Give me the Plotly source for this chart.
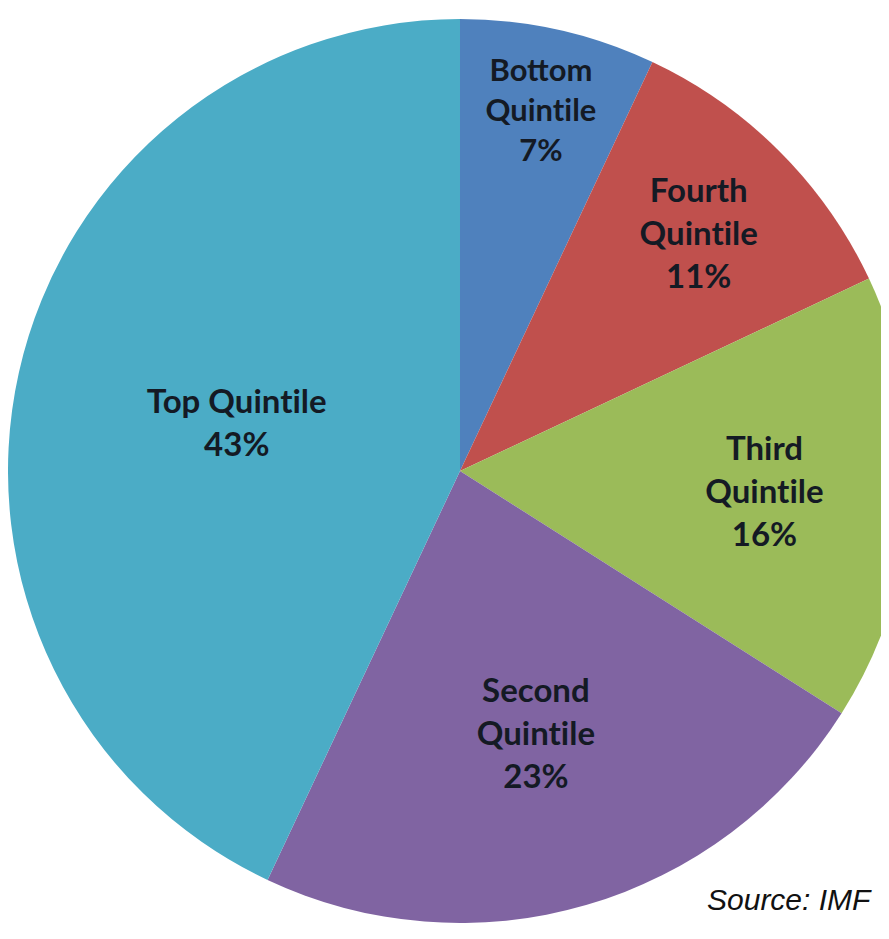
import plotly.graph_objects as go

ZWNJ = "\u200c"  # keeps "t" and "i" as separate glyphs, as in the original
labels = ["Bottom<br>Quint" + ZWNJ + "ile", "Fourth<br>Quint" + ZWNJ + "ile",
          "Third<br>Quint" + ZWNJ + "ile", "Second<br>Quint" + ZWNJ + "ile",
          "Top Quint" + ZWNJ + "ile"]
values = [7, 11, 16, 23, 43]
colors = ["#4F81BD", "#C0504D", "#9BBB59", "#8064A2", "#4BACC6"]

W, H = 904, 939
R = 452
cy_top = 463  # pie centre, px from top of figure
y0 = (H - cy_top - R) / H
y1 = (H - cy_top + R) / H

fig = go.Figure(go.Pie(
    labels=labels,
    values=values,
    sort=False,
    direction="clockwise",
    rotation=0,
    marker=dict(colors=colors, line=dict(width=0)),
    texttemplate="%{label}<br>%{percent:.0%}",
    textposition="inside",
    insidetextorientation="horizontal",
    textfont=dict(family="Lato", size=33, color="#141a24", weight="bold"),
    hoverinfo="label+percent",
    showlegend=False,
    domain=dict(x=[0, 1], y=[y0, y1]),
))

fig.add_annotation(
    text="<i>Source: IMF</i>", xref="paper", yref="paper",
    x=866 / W, y=48 / H, xanchor="right", yanchor="middle", showarrow=False,
    font=dict(family="Liberation Sans, Arial", size=30, color="#111111"),
)

fig.update_layout(
    width=W, height=H,
    margin=dict(l=0, r=0, t=0, b=0),
    paper_bgcolor="white",
    plot_bgcolor="white",
)

fig.write_html("out.html")
